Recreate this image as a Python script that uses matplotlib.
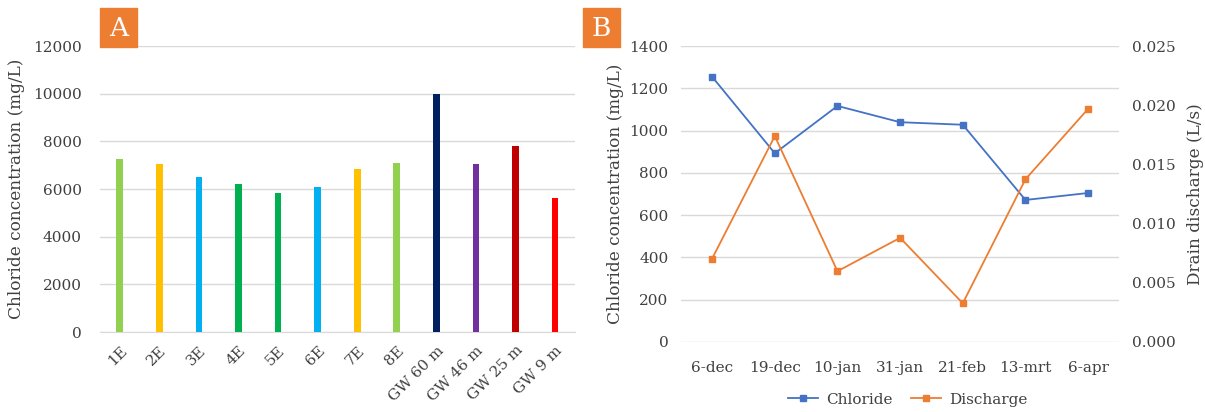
import matplotlib
matplotlib.use('Agg')
import matplotlib.pyplot as plt
from matplotlib.patches import Rectangle

plt.rcParams['font.family'] = ['DejaVu Serif']

# panel A data
sites = ['1E', '2E', '3E', '4E', '5E', '6E', '7E', '8E', 'GW 60 m', 'GW 46 m', 'GW 25 m', 'GW 9 m']
chloride_sites = [7250, 7050, 6520, 6200, 5830, 6070, 6850, 7080, 10000, 7050, 7800, 5620]
site_colors = ['#92D050', '#FFC000', '#00B0F0', '#00B050', '#00B050', '#00B0F0',
               '#FFC000', '#92D050', '#002060', '#7030A0', '#C00000', '#FF0000']

# panel B data
dates = ['6-dec', '19-dec', '10-jan', '31-jan', '21-feb', '13-mrt', '6-apr']
chloride_drain = [1255, 893, 1117, 1040, 1028, 672, 705]
discharge = [0.00705, 0.0174, 0.00598, 0.0088, 0.00327, 0.01375, 0.0197]

grid_c = '#D9D9D9'
txt_c = '#404040'
badge_c = '#ED7D31'

fig = plt.figure(figsize=(12.05, 4.12), dpi=100)

# ---- panel A
axA = fig.add_axes([0.083, 0.194, 0.394, 0.694])
x = range(len(sites))
axA.bar(x, chloride_sites, width=0.17, color=site_colors, zorder=3)
axA.set_ylim(0, 12000)
axA.set_yticks(range(0, 12001, 2000))
axA.set_xlim(-0.5, len(sites) - 0.5)
axA.set_xticks(list(x))
axA.set_xticklabels(sites, rotation=45, ha='right', rotation_mode='anchor')
axA.yaxis.grid(True, color=grid_c, lw=1, zorder=0)
for s in axA.spines.values():
    s.set_visible(False)
axA.spines['bottom'].set_visible(True)
axA.spines['bottom'].set_color(grid_c)
axA.tick_params(length=0, labelsize=11, colors=txt_c)
axA.tick_params(axis='y', pad=13)
axA.tick_params(axis='x', pad=8)
axA.set_ylabel('Chloride concentration (mg/L)', fontsize=12.2, color=txt_c, labelpad=6)

# ---- panel B
axB = fig.add_axes([0.565, 0.170, 0.364, 0.718])
xb = range(len(dates))
l1, = axB.plot(xb, chloride_drain, color='#4472C4', marker='s', ms=5, lw=1.3, zorder=3)
axB.set_ylim(0, 1400)
axB.set_yticks(range(0, 1401, 200))
axB.set_xlim(-0.5, len(dates) - 0.5)
axB.set_xticks(list(xb))
axB.set_xticklabels(dates)
axB.yaxis.grid(True, color=grid_c, lw=1, zorder=0)
axB2 = axB.twinx()
l2, = axB2.plot(xb, discharge, color='#ED7D31', marker='s', ms=5, lw=1.3, zorder=3)
axB2.set_ylim(0, 0.025)
axB2.set_yticks([0, 0.005, 0.010, 0.015, 0.020, 0.025])
axB2.set_yticklabels(['0.000', '0.005', '0.010', '0.015', '0.020', '0.025'])
for a in (axB, axB2):
    for s in a.spines.values():
        s.set_visible(False)
    a.tick_params(length=0, labelsize=11, colors=txt_c, pad=9)
axB.tick_params(axis='x', pad=14)
axB.set_ylabel('Chloride concentration (mg/L)', fontsize=12.2, color=txt_c)
axB2.set_ylabel('Drain discharge (L/s)', fontsize=12.2, color=txt_c, labelpad=8)
fig.legend([l1, l2], ['Chloride', 'Discharge'], loc='center', bbox_to_anchor=(0.753, 0.03),
           ncol=2, frameon=False, fontsize=11, labelcolor=txt_c, handlelength=2.0,
           handletextpad=0.5, columnspacing=1.2)

# badges
for bx, lab in [(100, 'A'), (583, 'B')]:
    fig.patches.append(Rectangle((bx / 1205, 1 - 47 / 412), 37 / 1205, 39 / 412,
                                 transform=fig.transFigure, color=badge_c))
    fig.text((bx + 18.5) / 1205, 1 - 28 / 412, lab, color='white', fontsize=19,
             ha='center', va='center')

fig.savefig('out.png', dpi=100)
